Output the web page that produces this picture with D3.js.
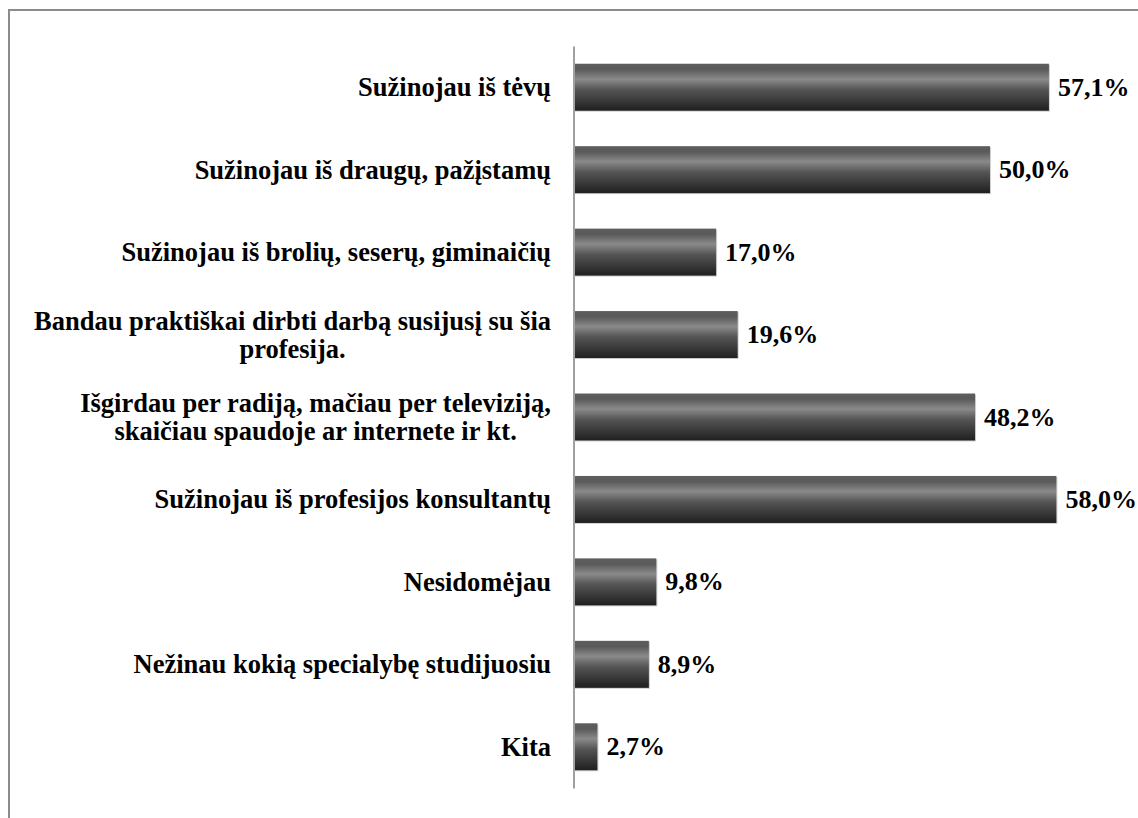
<!DOCTYPE html>
<html>
<head>
<meta charset="utf-8">
<script src="https://cdn.jsdelivr.net/npm/d3@7"></script>
<style>
html,body{margin:0;padding:0;background:#fff;}
svg{display:block;}
</style>
</head>
<body>
<svg id="chart" width="1138" height="818"></svg>
<script>
const categories = [
  "Sužinojau iš tėvų",
  "Sužinojau iš draugų, pažįstamų",
  "Sužinojau iš brolių, seserų, giminaičių",
  "Bandau praktiškai dirbti darbą susijusį su šia\nprofesija.",
  "Išgirdau per radiją, mačiau per televiziją,\nskaičiau spaudoje ar internete ir kt.",
  "Sužinojau iš profesijos konsultantų",
  "Nesidomėjau",
  "Nežinau kokią specialybę studijuosiu",
  "Kita"
];
const values = [57.1, 50.0, 17.0, 19.6, 48.2, 58.0, 9.8, 8.9, 2.7];
const valueLabels = ["57,1%", "50,0%", "17,0%", "19,6%", "48,2%", "58,0%", "9,8%", "8,9%", "2,7%"];

const svg = d3.select("#chart");
const font = "Liberation Serif, Times New Roman, serif";

// frame
svg.append("rect").attr("x", 9).attr("y", 10).attr("width", 1140).attr("height", 820)
  .attr("fill", "none").attr("stroke", "#8c8c8c").attr("stroke-width", 2);

const defs = svg.append("defs");
const grad = defs.append("linearGradient").attr("id", "barGrad")
  .attr("x1", 0).attr("y1", 0).attr("x2", 0).attr("y2", 1);
[[0, "#5e5e5e"], [0.12, "#5a5a5a"], [0.33, "#8a8a8a"], [0.55, "#555555"], [1, "#1f1f1f"]]
  .forEach(([o, c]) => grad.append("stop").attr("offset", o).attr("stop-color", c));

const y = d3.scaleBand().domain(categories).range([46, 788]).paddingInner(0.43).paddingOuter(0.215);
const x = d3.scaleLinear().domain([0, 60]).range([575, 1073]);

// shadow edge
svg.append("g").selectAll("rect").data(values).join("rect")
  .attr("x", x(0))
  .attr("y", (d, i) => y(categories[i]) + 1)
  .attr("width", d => x(d) - x(0) + 1)
  .attr("height", y.bandwidth())
  .attr("fill", "#d0d0d0");

svg.append("g").selectAll("rect").data(values).join("rect")
  .attr("x", x(0))
  .attr("y", (d, i) => y(categories[i]))
  .attr("width", d => x(d) - x(0))
  .attr("height", y.bandwidth())
  .attr("fill", "url(#barGrad)");

// axis line
const axis = d3.axisLeft(y).tickSize(0).tickFormat("");
const ag = svg.append("g").attr("transform", `translate(${x(0) - 1.5},0)`).call(axis);
ag.select(".domain").attr("stroke", "#a0a0a0").attr("stroke-width", 2);

// category labels
const lineH = 28;
categories.forEach((c, i) => {
  const lines = c.split("\n");
  const cy = y(c) + y.bandwidth() / 2;
  const t = svg.append("text")
    .attr("font-family", font).attr("font-weight", "bold").attr("font-size", 26.5)
    .attr("fill", "#000").attr("dominant-baseline", "central");
  const tspans = lines.map((l, k) => t.append("tspan").attr("x", 0)
    .attr("y", cy + (k - (lines.length - 1) / 2) * lineH).text(l));
  const widths = tspans.map(s => s.node().getComputedTextLength());
  const maxW = Math.max(...widths);
  const centerX = 551 - maxW / 2;
  tspans.forEach(s => s.attr("x", centerX).attr("text-anchor", "middle"));
});

// value labels
svg.append("g").selectAll("text").data(values).join("text")
  .attr("x", d => x(d) + 9)
  .attr("y", (d, i) => y(categories[i]) + y.bandwidth() / 2)
  .attr("dominant-baseline", "central")
  .attr("font-family", font).attr("font-weight", "bold").attr("font-size", 26)
  .text((d, i) => valueLabels[i]);
</script>
</body>
</html>
